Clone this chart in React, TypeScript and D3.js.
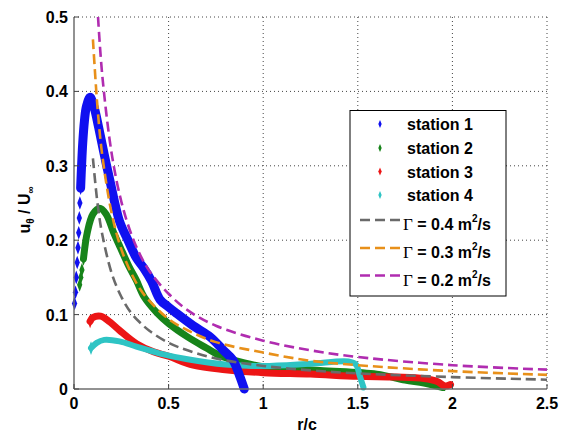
import React from 'react';
import * as d3 from 'd3';

const station1 = [
  [0.003, 0.115], [0.008, 0.13], [0.012, 0.15], [0.017, 0.17], [0.021, 0.19], [0.025, 0.21],
  [0.028, 0.23], [0.031, 0.25], [0.035, 0.27], [0.04, 0.3], [0.046, 0.33], [0.055, 0.36],
  [0.066, 0.38], [0.085, 0.392], [0.105, 0.38], [0.13, 0.352], [0.16, 0.315], [0.19, 0.28],
  [0.24, 0.226], [0.285, 0.2], [0.33, 0.176], [0.37, 0.162], [0.41, 0.145], [0.455, 0.12],
  [0.5, 0.11], [0.54, 0.102], [0.63, 0.085], [0.72, 0.07], [0.79, 0.052], [0.84, 0.039],
  [0.875, 0.018], [0.9, 0.0]
];
const station2 = [
  [0.03, 0.14], [0.036, 0.15], [0.042, 0.16], [0.05, 0.175], [0.07, 0.21], [0.1, 0.235],
  [0.135, 0.243], [0.17, 0.235], [0.21, 0.21], [0.245, 0.19], [0.29, 0.165], [0.33, 0.146],
  [0.37, 0.124], [0.44, 0.102], [0.5, 0.088], [0.6, 0.07], [0.7, 0.055], [0.77, 0.045],
  [0.9, 0.035], [1.0, 0.03], [1.3, 0.025], [1.6, 0.02], [1.75, 0.012], [1.85, 0.008], [1.95, 0.002]
];
const station3 = [
  [0.085, 0.091], [0.1, 0.096], [0.14, 0.098], [0.19, 0.09], [0.24, 0.079], [0.33, 0.061],
  [0.42, 0.05], [0.5, 0.044], [0.63, 0.032], [0.8, 0.026], [1.0, 0.022], [1.25, 0.02],
  [1.5, 0.017], [1.7, 0.016], [1.85, 0.014], [1.92, 0.01], [1.96, 0.004], [1.99, 0.006]
];
const station4 = [
  [0.09, 0.055], [0.12, 0.062], [0.16, 0.066], [0.24, 0.064], [0.33, 0.057], [0.45, 0.048],
  [0.6, 0.04], [0.8, 0.033], [1.0, 0.031], [1.25, 0.034], [1.45, 0.037], [1.49, 0.033],
  [1.51, 0.018], [1.53, 0.002]
];

// model curves
const rGamma = [0.1, 0.125, 0.15, 0.2, 0.25, 0.3, 0.35, 0.4, 0.5, 0.6, 0.75, 1, 1.25, 1.5, 2, 2.5];
const gamma04 = [0.31, 0.248, 0.207, 0.155, 0.124, 0.103, 0.089, 0.078, 0.062, 0.052, 0.041, 0.031, 0.025, 0.021, 0.016, 0.0125];
const gamma03 = [0.47, 0.376, 0.313, 0.235, 0.188, 0.157, 0.134, 0.118, 0.094, 0.079, 0.063, 0.049, 0.038, 0.032, 0.024, 0.019];
const rGamma02 = [0.127, 0.15, 0.2, 0.25, 0.3, 0.35, 0.4, 0.5, 0.6, 0.75, 1, 1.25, 1.5, 2, 2.5];
const gamma02 = [0.5, 0.42, 0.315, 0.252, 0.21, 0.18, 0.158, 0.128, 0.106, 0.085, 0.065, 0.052, 0.043, 0.032, 0.026];

const xTicks = [0, 0.5, 1, 1.5, 2, 2.5];
const yTicks = [0, 0.1, 0.2, 0.3, 0.4, 0.5];

const stations = [
  { name: 'station 1', data: station1, color: '#1010f0', width: 9, lineFrom: 8 },
  { name: 'station 2', data: station2, color: '#17841a', width: 7, lineFrom: 3 },
  { name: 'station 3', data: station3, color: '#ec1515', width: 7, lineFrom: 0 },
  { name: 'station 4', data: station4, color: '#2ec4c4', width: 6, lineFrom: 0 }
];
const drawOrder = [1, 2, 3, 0];

const models = [
  { label: '0.4', r: rGamma, v: gamma04, color: '#6a6a6a' },
  { label: '0.3', r: rGamma, v: gamma03, color: '#e8901a' },
  { label: '0.2', r: rGamma02, v: gamma02, color: '#b02cb0' }
];

const FONT = 'Arial, "Liberation Sans", sans-serif';

export default function App() {
  const x = d3.scaleLinear().domain([0, 2.5]).range([74, 547]);
  const y = d3.scaleLinear().domain([0, 0.5]).range([389, 17]);
  const line = d3.line<number[]>()
    .x(d => x(d[0]))
    .y(d => y(d[1]))
    .curve(d3.curveCatmullRom);
  const diamond = d3.symbol().type(d3.symbolDiamond).size(24)();
  const legendDiamond = d3.symbol().type(d3.symbolDiamond).size(10)();

  const legendRows = [124, 148, 171.5, 195];
  const modelRows = [220, 248, 275.5];

  return (
    <svg width={563} height={434} style={{ position: 'fixed', left: 0, top: 0, background: '#fff' }}
      fontFamily={FONT}>
      <rect x={0} y={0} width={563} height={434} fill="#fff" />

      {/* grid */}
      {xTicks.slice(1).map(t => (
        <line key={'gx' + t} x1={x(t)} x2={x(t)} y1={y(0.5)} y2={y(0)}
          stroke="#444" strokeWidth={1} strokeDasharray="1,3" />
      ))}
      {yTicks.slice(1).map(t => (
        <line key={'gy' + t} x1={x(0)} x2={x(2.5)} y1={y(t)} y2={y(t)}
          stroke="#444" strokeWidth={1} strokeDasharray="1,3" />
      ))}

      {/* stations */}
      {drawOrder.map(i => {
        const s = stations[i];
        return (
          <g key={s.name}>
            <path d={line(s.data.slice(s.lineFrom)) || ''} fill="none" stroke={s.color}
              strokeWidth={s.width} strokeLinejoin="round" strokeLinecap="round" />
            {s.data.slice(0, s.lineFrom + 1).map((d, j) => (
              <path key={j} d={diamond || ''} fill={s.color}
                transform={`translate(${x(d[0])},${y(d[1])}) scale(1,1.5)`} />
            ))}
          </g>
        );
      })}

      {/* model curves */}
      {models.map(m => (
        <path key={m.label} d={line(m.r.map((r, j) => [r, m.v[j]])) || ''} fill="none"
          stroke={m.color} strokeWidth={2.6} strokeDasharray="10,5" />
      ))}

      {/* axes */}
      <line x1={x(0)} x2={x(2.5)} y1={y(0)} y2={y(0)} stroke="#6e6e6e" strokeWidth={1.5} />
      <line x1={x(0)} x2={x(0)} y1={y(0)} y2={y(0.5)} stroke="#6e6e6e" strokeWidth={1.5} />
      {xTicks.map(t => (
        <g key={'tx' + t}>
          <line x1={x(t)} x2={x(t)} y1={y(0)} y2={y(0) - 5} stroke="#444" strokeWidth={1} />
          <text x={x(t)} y={409} textAnchor="middle" fontSize={16} fontWeight="bold">{t}</text>
        </g>
      ))}
      {yTicks.map(t => (
        <g key={'ty' + t}>
          <line x1={x(0)} x2={x(0) + 5} y1={y(t)} y2={y(t)} stroke="#444" strokeWidth={1} />
          <text x={68} y={y(t) + 6} textAnchor="end" fontSize={16} fontWeight="bold">{t}</text>
        </g>
      ))}

      {/* axis labels */}
      <text x={307} y={430} textAnchor="middle" fontSize={16} fontWeight="bold">r/c</text>
      <text transform="translate(30,210) rotate(-90)" textAnchor="middle" fontSize={16} fontWeight="bold">
        u<tspan fontSize={10} dy={4}>θ</tspan>
        <tspan dy={-4}> / U</tspan>
        <tspan fontSize={10} dy={4}>∞</tspan>
      </text>

      {/* legend */}
      <rect x={350} y={110.5} width={156} height={185.5} fill="#fff" stroke="#000" strokeWidth={1} />
      {stations.map((s, i) => (
        <g key={'lg' + s.name}>
          <path d={legendDiamond || ''} fill={s.color}
            transform={`translate(380,${legendRows[i]}) scale(1,1.4)`} />
          <text x={407} y={legendRows[i] + 6} fontSize={16} fontWeight="bold">{s.name}</text>
        </g>
      ))}
      {models.map((m, i) => (
        <g key={'lm' + m.label}>
          <line x1={360} x2={402} y1={modelRows[i]} y2={modelRows[i]} stroke={m.color}
            strokeWidth={2.6} strokeDasharray="10,5" />
          <text x={403} y={modelRows[i] + 10} fontSize={16} fontWeight="bold">
            <tspan fontFamily='"Liberation Serif", "Times New Roman", serif' fontWeight="normal" fontSize={17}>Γ</tspan>
            <tspan> = {m.label} m</tspan>
            <tspan fontSize={10} dy={-8}>2</tspan>
            <tspan dy={8}>/s</tspan>
          </text>
        </g>
      ))}
    </svg>
  );
}
